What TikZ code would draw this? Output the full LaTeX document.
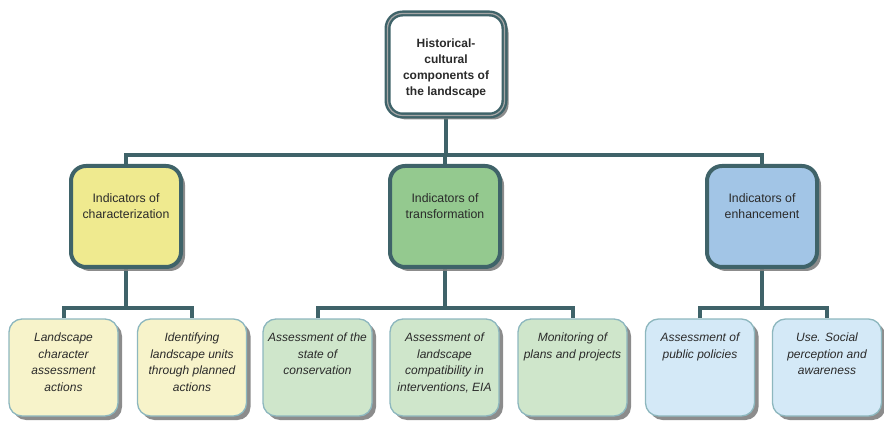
\documentclass[tikz,border=0pt]{standalone}
\usepackage{fontspec}
\setmainfont{Liberation Sans}
\usetikzlibrary{shadows,backgrounds}
\definecolor{edgeteal}{HTML}{3F6369}
\definecolor{edgelight}{HTML}{8DB7BE}
\definecolor{yelmid}{HTML}{EFEA8F}
\definecolor{grnmid}{HTML}{94C98F}
\definecolor{blumid}{HTML}{A2C5E6}
\definecolor{yellow2}{HTML}{F7F3CA}
\definecolor{green2}{HTML}{CFE6CB}
\definecolor{blue2}{HTML}{D4E9F7}
\definecolor{ink}{HTML}{2A2A2A}
\tikzset{
  conn/.style={draw=edgeteal, line width=4pt},
  shade box/.style={drop shadow={shadow xshift=4pt, shadow yshift=-4pt, fill=black!50, opacity=.9}},
  rootbox/.style={draw=edgeteal, line width=2.4pt, double=black!35, double distance=1.2pt,
    fill=white, rounded corners=15pt, minimum width=117pt, minimum height=102pt, shade box},
  midbox/.style={draw=edgeteal, line width=4pt, rounded corners=15pt,
    minimum width=110pt, minimum height=101pt, shade box},
  leafbox/.style={draw=edgelight, line width=1.3pt, rounded corners=13pt,
    minimum width=109pt, minimum height=97pt, shade box},
  roottext/.style={anchor=north, align=center, text=ink, font=\fontsize{12}{16}\selectfont\bfseries},
  midtext/.style={anchor=north, align=center, text=ink, font=\fontsize{12.3}{16}\selectfont},
  leaftext/.style={anchor=north, align=center, text=ink, font=\fontsize{12}{16.6}\selectfont\itshape},
}
\begin{document}
\begin{tikzpicture}[x=1pt, y=-1pt]
  \useasboundingbox (0,0) rectangle (884,422);
  \coordinate (upperbus) at (0,155);
  \coordinate (lowerbus) at (0,308);

  % root
  \node[rootbox] (root) at (446,64.5) {};
  \node[roottext] (roott) at ([yshift=-23pt]root.north) {Historical-\\cultural\\components of\\the landscape};

  % indicator groups
  \node[midbox, fill=yelmid] (chr) at (126,216.5) {};
  \node[midbox, fill=grnmid] (trf) at (445,216.5) {};
  \node[midbox, fill=blumid] (enh) at (762,216.5) {};
  \node[midtext] (chrt) at ([yshift=-26pt]chr.north) {Indicators of\\characterization};
  \node[midtext] (trft) at ([yshift=-26pt]trf.north) {Indicators of\\transformation};
  \node[midtext] (enht) at ([yshift=-26pt]enh.north) {Indicators of\\enhancement};

  % actions
  \node[leafbox, fill=yellow2] (a1) at (63.5,367.5) {};
  \node[leafbox, fill=yellow2] (a2) at (192,367.5) {};
  \node[leafbox, fill=green2] (a3) at (317.5,367.5) {};
  \node[leafbox, fill=green2] (a4) at (444.5,367.5) {};
  \node[leafbox, fill=green2] (a5) at (572.5,367.5) {};
  \node[leafbox, fill=blue2] (a6) at (700,367.5) {};
  \node[leafbox, fill=blue2] (a7) at (827,367.5) {};
  \node[leaftext] (a1t) at ([yshift=-11pt]a1.north) {Landscape\\character\\assessment\\actions};
  \node[leaftext] (a2t) at ([yshift=-11pt]a2.north) {Identifying\\landscape units\\through planned\\actions};
  \node[leaftext] (a3t) at ([yshift=-11pt]a3.north) {Assessment of the\\state of\\conservation};
  \node[leaftext] (a4t) at ([yshift=-11pt]a4.north) {Assessment of\\landscape\\compatibility in\\interventions, EIA};
  \node[leaftext] (a5t) at ([yshift=-11pt]a5.north) {Monitoring of\\plans and projects};
  \node[leaftext] (a6t) at ([yshift=-11pt]a6.north) {Assessment of\\public policies};
  \node[leaftext] (a7t) at ([yshift=-11pt]a7.north) {Use. Social\\perception and\\awareness};

  % connectors, behind the boxes
  \begin{scope}[on background layer]
    \draw[conn] (root.south) -- (root.south |- upperbus);
    \draw[conn] (chr.north) -- (chr.north |- upperbus) -- (enh.north |- upperbus) -- (enh.north);
    \draw[conn] (trf.north) -- (trf.north |- upperbus);
    \draw[conn] (chr.south) -- (chr.south |- lowerbus);
    \draw[conn] (a1.north) -- (a1.north |- lowerbus) -- (a2.north |- lowerbus) -- (a2.north);
    \draw[conn] (trf.south) -- (trf.south |- lowerbus);
    \draw[conn] (a3.north) -- (a3.north |- lowerbus) -- (a5.north |- lowerbus) -- (a5.north);
    \draw[conn] (enh.south) -- (enh.south |- lowerbus);
    \draw[conn] (a6.north) -- (a6.north |- lowerbus) -- (a7.north |- lowerbus) -- (a7.north);
  \end{scope}
\end{tikzpicture}
\end{document}
